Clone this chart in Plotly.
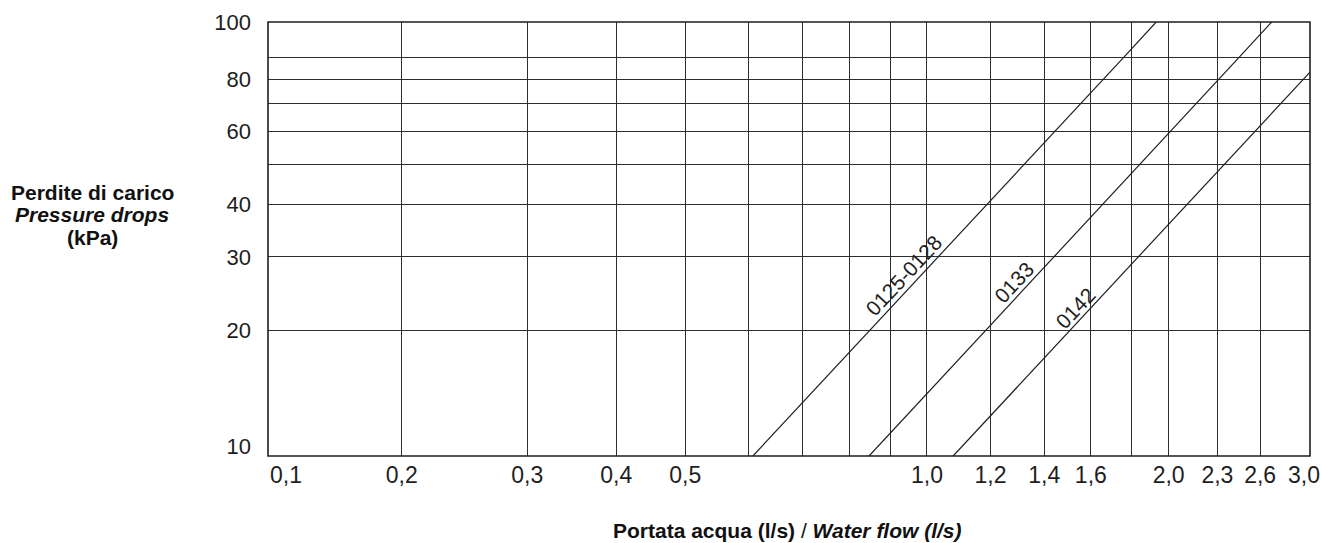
import math
import plotly.graph_objects as go

# ---------------- data ----------------
# x grid / tick values of the three pieces of the (hand-drawn) flow axis
x_grid_low = [0.1, 0.2]
x_label_low = ["0,1", ""]
x_grid_mid = [0.2, 0.3, 0.4, 0.5]
x_label_mid = ["0,2", "0,3", "0,4", ""]
x_grid_high = [0.5, 0.6, 0.7, 0.8, 0.9, 1.0, 1.2, 1.4, 1.6, 1.8, 2.0, 2.3, 2.6, 3.0]
x_label_high = ["0,5", "", "", "", "", "1,0", "1,2", "1,4", "1,6", "", "2,0", "2,3", "2,6", ""]
x_grid_end = [3.0]
x_label_end = ["3,0"]

# y grid / tick values (pressure drop, kPa)
y_grid_low = [10, 20, 30, 40, 50, 60, 70, 80, 90]
y_label_low = ["", "20", "30", "40", "", "60", "", "80", ""]
y_grid_high = [90, 100]
y_label_high = ["", "100"]
y_label_bottom = ["10"]

# curves: water flow (l/s) vs pressure drop (kPa)
curve_names = ["0125-0128", "0133", "0142"]
curve_flow = [[0.607, 1.757, 1.93], [0.847, 2.446, 2.688], [1.078, 3.0]]
curve_drop = [[10, 90, 100], [10, 90, 100], [10, 83.1]]
label_flow = [0.936, 1.284, 1.529]
label_drop = [27.0, 26.0, 22.6]

# ---------------- styling ----------------
INK = "#1e1e1e"
GRID = "#2e2e2e"
FONT = "Liberation Sans, Arial, Helvetica, sans-serif"
NARROW = "Liberation Sans Narrow, Arial Narrow, Liberation Sans, sans-serif"

W, H = 1322, 543
ML, MR, MT, MB = 268, 12, 22, 87
PW = W - ML - MR
PH = H - MT - MB

# piece boundaries of the drawing (layout only)
a = 133.7 / PW
b = 417.3 / PW
c = (PH - 35.7) / PH
EXT = 0.01  # small range extension (decades) so the boundary grid line is drawn


def extend_low(d0, d1, r0, r1):
    """extend an axis a little below its start, keeping the scale unchanged"""
    return [d0 - EXT * (d1 - d0) / (r1 - r0), d1], [r0 - EXT, r1]


x2_dom, x2_rng = extend_low(a, b, math.log10(0.2), math.log10(0.5))
x3_dom, x3_rng = extend_low(b, 1, math.log10(0.5), math.log10(3.0))
y2_dom, y2_rng = extend_low(c, 1, math.log10(90), 2)

fig = go.Figure()

# empty traces so that every sub-area exists (grid drawn everywhere)
for xa in ["x", "x2", "x3"]:
    for ya in ["y", "y2"]:
        fig.add_trace(go.Scatter(x=[], y=[], xaxis=xa, yaxis=ya, showlegend=False,
                                 hoverinfo="skip"))
fig.add_trace(go.Scatter(x=[], y=[], xaxis="x", yaxis="y3", showlegend=False, hoverinfo="skip"))
fig.add_trace(go.Scatter(x=[], y=[], xaxis="x4", yaxis="y", showlegend=False, hoverinfo="skip"))

# curves (split between the lower and upper part of the pressure axis)
for name, xs, ys in zip(curve_names, curve_flow, curve_drop):
    lo = [(x, y) for x, y in zip(xs, ys) if y <= 90]
    hi = [(x, y) for x, y in zip(xs, ys) if y >= 90]
    fig.add_trace(go.Scatter(x=[p[0] for p in lo], y=[p[1] for p in lo], mode="lines",
                             xaxis="x3", yaxis="y", name=name, showlegend=False,
                             line=dict(color=INK, width=1.2)))
    if len(hi) >= 2:
        fig.add_trace(go.Scatter(x=[p[0] for p in hi], y=[p[1] for p in hi], mode="lines",
                                 xaxis="x3", yaxis="y2", name=name, showlegend=False,
                                 line=dict(color=INK, width=1.2)))

common = dict(type="log", showgrid=True, gridcolor=GRID, gridwidth=1.3, showline=False,
              zeroline=False, ticks="", automargin=False, fixedrange=True)
xcommon = dict(common, anchor="y", tickfont=dict(family=NARROW, size=23, color=INK),
               ticklabelstandoff=3, ticklabeloverflow="allow", tickmode="array")
ycommon = dict(common, anchor="x", tickfont=dict(family=FONT, size=22, color=INK),
               ticklabelstandoff=16, tickmode="array")

fig.update_layout(
    template="none",
    width=W, height=H,
    margin=dict(l=ML, r=MR, t=MT, b=MB),
    paper_bgcolor="white", plot_bgcolor="rgba(0,0,0,0)",
    showlegend=False,
    xaxis=dict(xcommon, domain=[0, a], range=[math.log10(0.1), math.log10(0.2)],
               tickvals=x_grid_low, ticktext=x_label_low, ticklabelshift=18),
    xaxis2=dict(xcommon, domain=x2_dom, range=x2_rng,
                tickvals=x_grid_mid, ticktext=x_label_mid),
    xaxis3=dict(xcommon, domain=x3_dom, range=x3_rng,
                tickvals=x_grid_high, ticktext=x_label_high),
    xaxis4=dict(xcommon, overlaying="x3", range=x3_rng, showgrid=False,
                tickvals=x_grid_end, ticktext=x_label_end, ticklabelshift=-6),
    yaxis=dict(ycommon, domain=[0, c], range=[1, math.log10(90)],
               tickvals=y_grid_low, ticktext=y_label_low),
    yaxis2=dict(ycommon, domain=y2_dom, range=y2_rng,
                tickvals=y_grid_high, ticktext=y_label_high),
    yaxis3=dict(ycommon, overlaying="y", range=[1, math.log10(90)], showgrid=False,
                tickvals=[10], ticktext=y_label_bottom, ticklabelshift=-10),
)

# frame
fig.add_shape(type="rect", xref="paper", yref="paper", x0=0, x1=1, y0=0, y1=1,
              line=dict(color=INK, width=1.6), layer="above")

# curve labels, written along the lines
for name, lx, ly in zip(curve_names, label_flow, label_drop):
    fig.add_annotation(x=math.log10(lx), y=math.log10(ly), xref="x3", yref="y",
                       text=name, showarrow=False, textangle=-47,
                       xanchor="center", yanchor="middle",
                       font=dict(family=FONT, size=21, color=INK))

# axis titles
ytitle = ["<b>Perdite di carico</b>", "<b><i>Pressure drops</i></b>", "<b>(kPa)</b>"]
ytitle_px = [192, 214, 237]
for t, py in zip(ytitle, ytitle_px):
    fig.add_annotation(x=(92 - ML) / PW, y=(MT + PH - py) / PH, xref="paper", yref="paper",
                       text=t, showarrow=False, xanchor="center", yanchor="middle",
                       font=dict(family=FONT, size=21, color="#111"))

fig.add_annotation(x=(787 - ML) / PW, y=(MT + PH - 530) / PH, xref="paper", yref="paper",
                   text="<b>Portata acqua (l/s)</b> / <b><i>Water flow (l/s)</i></b>",
                   showarrow=False, xanchor="center", yanchor="middle",
                   font=dict(family=FONT, size=21, color="#111"))

fig.write_html("out.html", config={"displayModeBar": False},
               post_script="document.body.style.margin='0px';")
